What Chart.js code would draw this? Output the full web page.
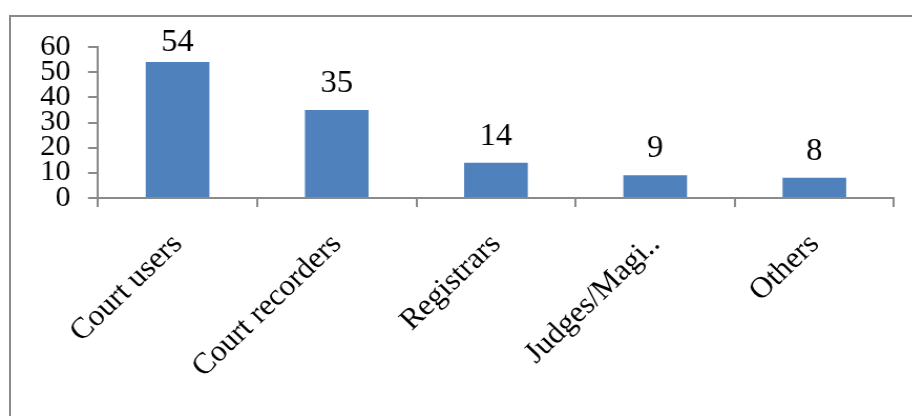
<!DOCTYPE html>
<html>
<head>
<meta charset="utf-8">
<script src="https://cdn.jsdelivr.net/npm/chart.js@4/dist/chart.umd.min.js"></script>
<style>
  html, body { margin: 0; padding: 0; background: #fff; overflow: hidden; }
  body { width: 912px; height: 416px; position: relative; }
  #frame {
    position: absolute; left: 9px; top: 15px; width: 1000px; height: 1000px;
    border-left: 2px solid #8a8a8a; border-top: 2px solid #8a8a8a;
  }
  /* source picture is a little wider than tall, so draw narrower and stretch */
  #wrap {
    position: absolute; left: 0; top: 0; width: 869px; height: 416px;
    transform: scaleX(1.05); transform-origin: 0 0;
  }
</style>
</head>
<body>
<div id="frame"></div>
<div id="wrap"><canvas id="chart"></canvas></div>
<script>
// --- data ---
const categories = ["Court users", "Court recorders", "Registrars", "Judges/Magi..", "Others"];
const counts = [54, 35, 14, 9, 8];
const yMax = 60;
const yStep = 10;

const serif = "'Liberation Serif', 'Times New Roman', serif";
const axisGray = "#8a8a8a";

// value labels above the bars, kept inside the frame like the original does
const valueLabels = {
  id: "valueLabels",
  afterDatasetsDraw(chart) {
    const ctx = chart.ctx;
    const meta = chart.getDatasetMeta(0);
    const size = 31;
    const minBaseline = 30 + Math.round(size * 0.68);
    ctx.save();
    ctx.font = size + "px " + serif;
    ctx.fillStyle = "#000";
    ctx.textAlign = "center";
    ctx.textBaseline = "alphabetic";
    meta.data.forEach((bar, i) => {
      ctx.fillText(String(counts[i]), bar.x, Math.max(bar.y - 18, minBaseline));
    });
    ctx.restore();
  },
};

window.addEventListener("load", function () {
  const ctx = document.getElementById("chart").getContext("2d");
  new Chart(ctx, {
    type: "bar",
    data: {
      labels: categories,
      datasets: [{
        data: counts,
        backgroundColor: "#4f81bd",
        borderWidth: 0,
        barPercentage: 0.4,
        categoryPercentage: 1.0,
      }],
    },
    options: {
      responsive: true,
      maintainAspectRatio: false,
      animation: false,
      layout: { padding: { left: 0, right: 17.6, top: 47, bottom: 0 } },
      plugins: { legend: { display: false }, tooltip: { enabled: false } },
      scales: {
        x: {
          grid: { display: true, drawOnChartArea: false, drawTicks: true, tickLength: 9, color: axisGray, lineWidth: 2, offset: true },
          border: { display: true, color: axisGray, width: 2 },
          ticks: {
            color: "#000",
            font: { family: serif, size: 30 },
            minRotation: 45,
            maxRotation: 45,
            autoSkip: false,
            padding: 20,
          },
          afterFit(scale) { scale.height = 416 - 198; },
        },
        y: {
          min: 0,
          max: yMax,
          grid: { display: true, drawOnChartArea: false, drawTicks: true, tickLength: 9.5, color: axisGray, lineWidth: 2 },
          border: { display: true, color: axisGray, width: 2 },
          ticks: {
            stepSize: yStep,
            autoSkip: false,
            color: "#000",
            font: { family: serif, size: 29, lineHeight: 1 },
            padding: 16.5,
          },
          afterFit(scale) { scale.width = 93.3; },
        },
      },
    },
    plugins: [valueLabels],
  });
});
</script>
</body>
</html>
